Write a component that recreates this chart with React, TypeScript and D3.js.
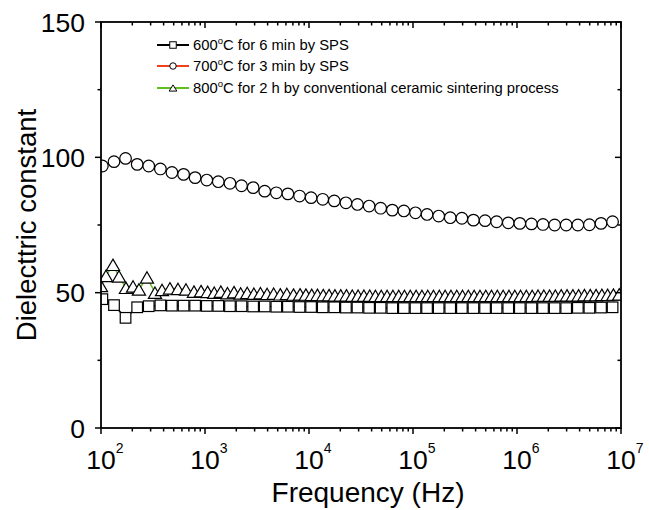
import React from "react";
import * as d3 from "d3";

// log10(frequency / Hz) for the two SPS samples
const freqLog = [
  2.013, 2.125, 2.236, 2.348, 2.459, 2.571, 2.682, 2.794, 2.905, 3.017,
  3.128, 3.24, 3.351, 3.463, 3.574, 3.686, 3.797, 3.909, 4.02, 4.132,
  4.243, 4.355, 4.466, 4.578, 4.689, 4.801, 4.912, 5.024, 5.135, 5.247,
  5.358, 5.47, 5.581, 5.693, 5.804, 5.916, 6.027, 6.139, 6.25, 6.362,
  6.473, 6.585, 6.696, 6.808, 6.919,
];

const sps600 = [
  47.6, 45.4, 40.7, 44.6, 45.0, 45.3, 45.2, 45.2, 45.2, 45.1,
  45.1, 45.0, 45.0, 44.9, 44.9, 44.8, 44.8, 44.7, 44.7, 44.6,
  44.6, 44.5, 44.5, 44.4, 44.4, 44.3, 44.3, 44.3, 44.3, 44.3,
  44.3, 44.3, 44.3, 44.3, 44.3, 44.3, 44.3, 44.3, 44.3, 44.3,
  44.3, 44.4, 44.4, 44.5, 44.6,
];

const sps700 = [
  96.8, 98.4, 99.6, 97.4, 96.8, 95.7, 94.4, 93.7, 92.5, 91.6,
  91.0, 90.4, 89.5, 88.8, 87.5, 86.9, 86.5, 85.7, 85.1, 84.5,
  83.9, 83.2, 82.6, 82.0, 81.2, 80.5, 80.2, 79.5, 78.9, 78.3,
  77.7, 77.5, 76.8, 76.6, 76.2, 75.8, 75.6, 75.4, 75.2, 75.0,
  75.0, 75.0, 75.1, 75.6, 76.2,
];

// log10(frequency / Hz) for the conventionally sintered sample
const convLog = [
  2.0, 2.048, 2.115, 2.173, 2.24, 2.308, 2.365, 2.442, 2.519, 2.587,
  2.663, 2.74, 2.817, 2.894, 2.962,
  3.025, 3.089, 3.152, 3.216, 3.279, 3.343, 3.406, 3.47, 3.533, 3.597,
  3.66, 3.724, 3.787, 3.851, 3.914,
  3.97, 4.026, 4.081, 4.137, 4.193, 4.249, 4.305, 4.36, 4.416, 4.472,
  4.528, 4.584, 4.639, 4.695, 4.751, 4.807, 4.863, 4.918, 4.974, 5.03,
  5.086, 5.142, 5.197, 5.253, 5.309, 5.365, 5.421, 5.476, 5.532, 5.588,
  5.644, 5.7, 5.755, 5.811, 5.867, 5.923, 5.979, 6.034, 6.09, 6.146,
  6.202, 6.258, 6.313, 6.369, 6.425, 6.481, 6.537, 6.592, 6.648, 6.704,
  6.76, 6.816, 6.871, 6.927, 6.983,
];

const conv800 = [
  52.5, 56.2, 60.3, 56.0, 51.8, 52.3, 51.2, 55.6, 50.0, 51.0,
  51.6, 51.4, 51.2, 50.4, 50.6,
  50.3, 50.0, 50.4, 49.8, 50.2, 49.7, 49.9, 49.6, 49.8, 49.5,
  49.6, 49.4, 49.5, 49.3, 49.4,
  49.3, 49.2, 49.2, 49.1, 49.1, 49.0, 49.0, 49.0, 48.9, 48.9,
  48.9, 48.9, 48.8, 48.8, 48.8, 48.8, 48.8, 48.8, 48.8, 48.8,
  48.8, 48.8, 48.8, 48.8, 48.8, 48.8, 48.8, 48.8, 48.8, 48.8,
  48.8, 48.8, 48.8, 48.8, 48.8, 48.8, 48.8, 48.8, 48.8, 48.8,
  48.9, 48.9, 48.9, 48.9, 49.0, 49.0, 49.0, 49.0, 49.1, 49.1,
  49.1, 49.2, 49.2, 49.3, 49.4,
];

const yMajor = [0, 50, 100, 150];
const yMinor = [25, 75, 125];
const xDecades = [2, 3, 4, 5, 6, 7];

const legendTemps = ["600", "700", "800"];
const legendTexts = ["C for 6 min by SPS", "C for 3 min by SPS", "C for 2 h by conventional ceramic sintering process"];
const legendColors = ["#000000", "#f0401e", "#5fbf1f"];
const legendShapes = ["square", "circle", "triangle"];

const W = 649;
const H = 510;
const L = 101, R = 621, T = 22, B = 428;
const FONT = "'Liberation Sans', Arial, sans-serif";

const marker = (shape: string, cx: number, cy: number, s: number) => {
  if (shape === "square") return <rect x={cx - s / 2} y={cy - s / 2} width={s} height={s} />;
  if (shape === "circle") return <circle cx={cx} cy={cy} r={s / 2} />;
  const h = s * 0.95;
  return <path d={`M${cx},${cy - h / 2}L${cx + s / 2 + 0.6},${cy + h / 2}L${cx - s / 2 - 0.6},${cy + h / 2}Z`} />;
};

export default function App() {
  const x = d3.scaleLog().domain([1e2, 1e7]).range([L, R]);
  const y = d3.scaleLinear().domain([0, 150]).range([B, T]);

  const xMinor: number[] = [];
  for (let d = 2; d < 7; d++) for (let m = 2; m <= 9; m++) xMinor.push(m * 10 ** d);

  const line = d3
    .line<[number, number]>()
    .x((d) => x(10 ** d[0]))
    .y((d) => y(d[1]));

  const series = [
    { pts: freqLog.map((f, i) => [f, sps600[i]] as [number, number]), color: legendColors[0], shape: "square", size: 10.6 },
    { pts: freqLog.map((f, i) => [f, sps700[i]] as [number, number]), color: legendColors[1], shape: "circle", size: 11.6 },
    { pts: convLog.map((f, i) => [f, conv800[i]] as [number, number]), color: legendColors[2], shape: "triangle", size: 12 },
  ];

  return (
    <div style={{ position: "absolute", left: 0, top: 0 }}>
      <svg width={W} height={H} style={{ display: "block", background: "#fff" }} fontFamily={FONT}>
        <defs>
          <clipPath id="plot">
            <rect x={L} y={T} width={R - L} height={B - T} />
          </clipPath>
        </defs>

        <g clipPath="url(#plot)">
          {series.map((s, i) => (
            <path key={"l" + i} d={line(s.pts) || ""} fill="none" stroke={s.color} strokeWidth={1.5} />
          ))}
          {series.map((s, i) => (
            <g key={"m" + i} fill="#fff" stroke="#000" strokeWidth={1.2}>
              {s.pts.map((p, j) => (
                <g key={j}>{marker(s.shape, x(10 ** p[0]), y(p[1]), s.size)}</g>
              ))}
            </g>
          ))}
        </g>

        {/* frame */}
        <rect x={L} y={T} width={R - L} height={B - T} fill="none" stroke="#000" strokeWidth={1.8} />

        {/* y ticks, left and right (both pointing left) */}
        <g stroke="#000" strokeWidth={1.5}>
          {yMajor.map((v) => (
            <g key={v}>
              <line x1={L - 6} x2={L} y1={y(v)} y2={y(v)} />
              <line x1={R - 6} x2={R} y1={y(v)} y2={y(v)} />
            </g>
          ))}
          {yMinor.map((v) => (
            <g key={v}>
              <line x1={L - 3.5} x2={L} y1={y(v)} y2={y(v)} />
              <line x1={R - 3.5} x2={R} y1={y(v)} y2={y(v)} />
            </g>
          ))}
          {/* x ticks, bottom and top (both pointing down) */}
          {xDecades.map((d) => (
            <g key={d}>
              <line x1={x(10 ** d)} x2={x(10 ** d)} y1={B} y2={B + 6} />
              <line x1={x(10 ** d)} x2={x(10 ** d)} y1={T} y2={T + 6} />
            </g>
          ))}
          {xMinor.map((v) => (
            <g key={v}>
              <line x1={x(v)} x2={x(v)} y1={B} y2={B + 3.5} />
              <line x1={x(v)} x2={x(v)} y1={T} y2={T + 3.5} />
            </g>
          ))}
        </g>

        {/* y tick labels */}
        {yMajor.map((v) => (
          <text key={v} x={L - 16} y={y(v) + 9.5} textAnchor="end" fontSize={26.5}>
            {v}
          </text>
        ))}

        {/* x tick labels */}
        {xDecades.map((d) => (
          <text key={d} x={x(10 ** d) - 14.7} y={469} textAnchor="start" fontSize={26.5}>
            10
            <tspan dy={-16} fontSize={14}>
              {d}
            </tspan>
          </text>
        ))}

        <text x={368} y={502} textAnchor="middle" fontSize={28}>
          Frequency (Hz)
        </text>
        <text transform={`translate(36,${(T + B) / 2}) rotate(-90)`} textAnchor="middle" fontSize={27.5}>
          Dielecttric constant
        </text>

        {/* legend */}
        {legendTemps.map((t, i) => {
          const cy = [45, 66, 88][i];
          return (
            <g key={t}>
              <line x1={157} x2={189} y1={cy} y2={cy} stroke={legendColors[i]} strokeWidth={2} />
              <g fill="#fff" stroke="#000" strokeWidth={1}>
                {marker(legendShapes[i], 173, cy, 6.5)}
              </g>
              <text x={193} y={cy + 5.3} fontSize={14.8}>
                {t}
                <tspan dy={-6.5} fontSize={9.5}>
                  o
                </tspan>
                <tspan dy={6.5}>{legendTexts[i]}</tspan>
              </text>
            </g>
          );
        })}
      </svg>
    </div>
  );
}
